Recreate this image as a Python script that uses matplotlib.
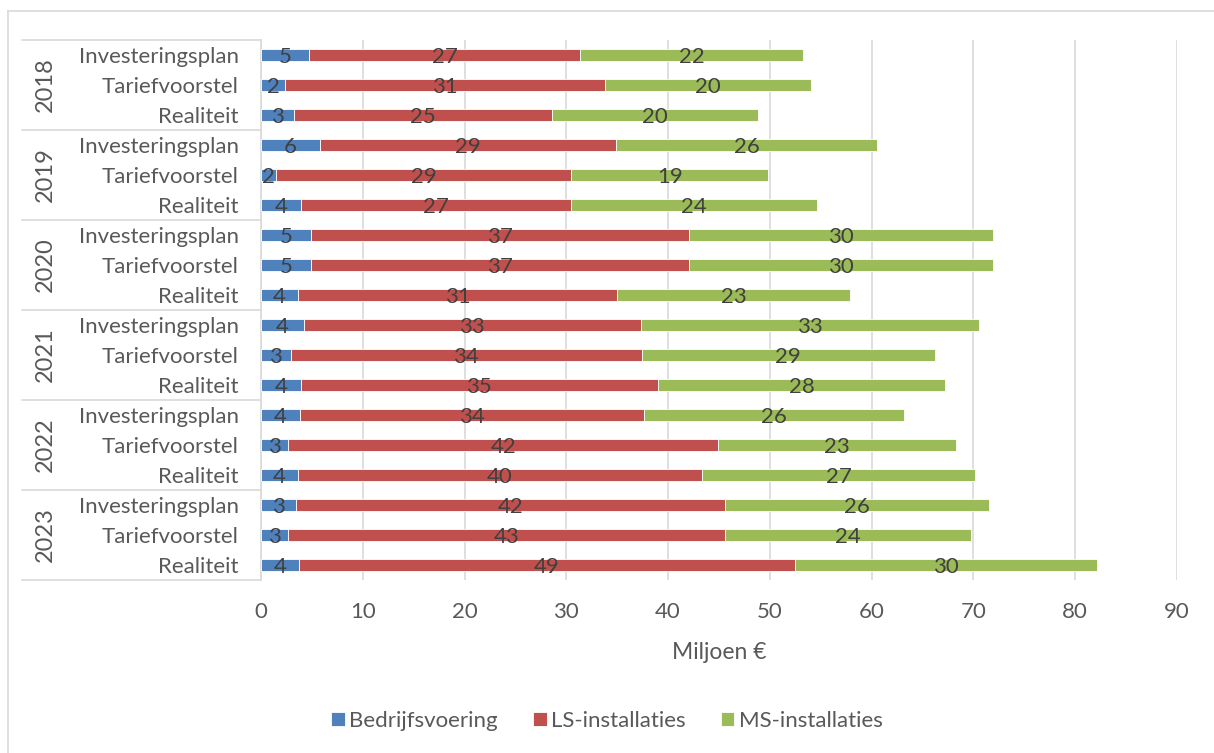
import matplotlib.pyplot as plt
from matplotlib.lines import Line2D
import numpy as np

plt.rcParams['font.family'] = ['Lato', 'DejaVu Sans']

years = ['2018', '2019', '2020', '2021', '2022', '2023']
kinds = ['Investeringsplan', 'Tariefvoorstel', 'Realiteit']
series = ['Bedrijfsvoering', 'LS-installaties', 'MS-installaties']

# values per row, top to bottom (year x kind)
bedrijfsvoering = [4.75, 2.4, 3.2, 5.8, 1.5, 3.9, 4.9, 4.9, 3.6,
                   4.2, 2.9, 3.9, 3.8, 2.7, 3.6, 3.4, 2.7, 3.7]
ls_install = [26.6, 31.4, 25.4, 29.1, 29.0, 26.6, 37.2, 37.2, 31.4,
              33.1, 34.5, 35.1, 33.8, 42.2, 39.7, 42.2, 42.9, 48.8]
ms_install = [21.9, 20.2, 20.2, 25.6, 19.3, 24.1, 29.8, 29.8, 22.9,
              33.2, 28.8, 28.2, 25.6, 23.4, 26.9, 25.9, 24.2, 29.6]

colors = ['#4F81BD', '#C0504D', '#9BBB59']

fig = plt.figure(figsize=(12.14, 7.53), dpi=100)
ax = fig.add_axes([261/1214, 1-580/753, 916/1214, 540/753])

rows = np.arange(len(bedrijfsvoering))
left = np.zeros(len(rows))
for vals, col, name in zip([bedrijfsvoering, ls_install, ms_install], colors, series):
    vals = np.array(vals)
    bars = ax.barh(rows, vals, left=left, height=0.43, color=col,
                   edgecolor='white', linewidth=0.6, label=name, zorder=3)
    # labels in het midden van elk segment, iets lager zoals in Excel
    for x, w, y in zip(left, vals, rows):
        ax.text(x + w/2, y + 0.08, f'{w:.0f}', ha='center', va='center',
                fontsize=16, color='#404040', zorder=4)
    left += vals

ax.set_ylim(len(rows)-0.5, -0.5)
ax.set_xlim(0, 90)
ax.set_xticks(np.arange(0, 91, 10))
ax.set_yticks(rows)
ax.set_yticklabels(kinds * len(years))
ax.tick_params(axis='y', length=0, pad=16, labelsize=16, labelcolor='#595959')
ax.tick_params(axis='x', length=0, pad=16, labelsize=16, labelcolor='#595959')
ax.grid(axis='x', color='#D9D9D9', linewidth=1.2, zorder=0)
for s in ['top', 'right', 'bottom']:
    ax.spines[s].set_visible(False)
ax.spines['left'].set_color('#D9D9D9')
ax.spines['left'].set_linewidth(1.2)

ax.set_xlabel('Miljoen €', fontsize=16.5, color='#595959', labelpad=14)

# year group labels and separators
x0 = (22-261)/916
for i, yr in enumerate(years):
    ax.text((45-261)/916, i*3+1, yr, rotation=90, ha='center', va='center',
            fontsize=17, color='#595959', transform=ax.get_yaxis_transform())
for b in np.arange(-0.5, len(rows), 3):
    ax.plot([x0, 0], [b, b], color='#D9D9D9', linewidth=1.2, clip_on=False,
            transform=ax.get_yaxis_transform())

# chart frame
fig.add_artist(Line2D([8/1214, 1], [1-11/753, 1-11/753], color='#D9D9D9', linewidth=1.2))
fig.add_artist(Line2D([8/1214, 8/1214], [0, 1-11/753], color='#D9D9D9', linewidth=1.2))

fig.legend(loc='center', bbox_to_anchor=(0.5, 1-721/753), ncol=3, frameon=False,
           fontsize=16, labelcolor='#595959', handlelength=0.6, handleheight=0.6,
           handletextpad=0.2, columnspacing=1.6)

fig.savefig('out.png', dpi=100)
